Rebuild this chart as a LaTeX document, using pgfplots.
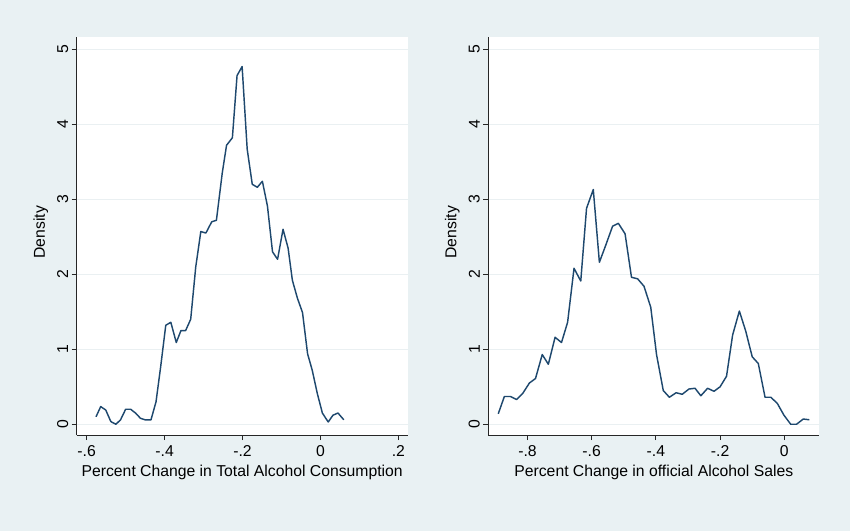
\documentclass[border=0pt]{standalone}
\usepackage{pgfplots}
\pgfplotsset{compat=1.18}
\usepackage{fontspec}
\setmainfont{Liberation Sans}
\definecolor{bgc}{RGB}{233,241,243}
\definecolor{gridc}{RGB}{234,240,242}
\definecolor{navy}{RGB}{30,72,110}
\begin{document}
\begin{tikzpicture}
\fill[bgc] (0,0) rectangle (850bp,531bp);
\pgfplotsset{
  every axis/.append style={
    scale only axis,
    anchor=south west,
    width=331bp, height=397.7bp,
    ymin=-0.143, ymax=5.16,
    axis x line=bottom, axis y line=left,
    axis line style={-, line width=0.9pt, black!85},
    axis background/.style={fill=white},
    tick align=outside,
    major tick length=5bp,
    tick style={line width=0.8pt, black!85},
    ymajorgrids,
    major grid style={gridc, line width=1.4pt},
    ytick={0,1,2,3,4,5},
    font=\fontsize{15.8}{18}\selectfont,
    /pgf/number format/assume math mode=true,
    yticklabel style={rotate=90, anchor=south, xshift=0bp, font=\fontsize{15.8}{18}\selectfont},
    xticklabel style={font=\fontsize{15.8}{18}\selectfont, yshift=-2bp},
    ylabel={Density},
    every axis y label/.style={at={(axis description cs:-0.1087,0.51)}, rotate=90, anchor=center},
    every axis x label/.style={at={(axis description cs:0.5,-0.1031)}, anchor=base},
    clip=false,
  }
}
\begin{axis}[
  at={(76.7bp,96bp)},
  xmin=-0.6256, xmax=0.224,
  xtick={-0.6,-0.4,-0.2,0,0.2},
  xticklabels={-.6,-.4,-.2,0,.2},
  xlabel={Percent Change in Total Alcohol Consumption},
]
\addplot[navy, line width=1.45pt, line join=round] coordinates {
(-0.576,0.10) (-0.564,0.236) (-0.551,0.19) (-0.538,0.036) (-0.525,0.0)
(-0.513,0.06) (-0.500,0.20) (-0.487,0.20) (-0.474,0.147) (-0.462,0.08)
(-0.449,0.058) (-0.435,0.058) (-0.422,0.30) (-0.410,0.77) (-0.397,1.32)
(-0.384,1.36) (-0.370,1.09) (-0.358,1.25) (-0.346,1.25) (-0.333,1.40)
(-0.320,2.10) (-0.307,2.57) (-0.294,2.55) (-0.279,2.70) (-0.267,2.72)
(-0.252,3.35) (-0.241,3.72) (-0.226,3.82) (-0.214,4.65) (-0.201,4.77)
(-0.188,3.67) (-0.175,3.20) (-0.162,3.16) (-0.149,3.24) (-0.136,2.91)
(-0.123,2.30) (-0.110,2.20) (-0.096,2.60) (-0.083,2.35) (-0.072,1.92)
(-0.059,1.68) (-0.046,1.49) (-0.033,0.94) (-0.021,0.72) (-0.008,0.41)
(0.005,0.15) (0.020,0.03) (0.032,0.12) (0.045,0.15) (0.060,0.06)
};
\end{axis}
\begin{axis}[
  at={(488.3bp,96bp)},
  xmin=-0.922, xmax=0.109,
  xtick={-0.8,-0.6,-0.4,-0.2,0},
  xticklabels={-.8,-.6,-.4,-.2,0},
  xlabel={Percent Change in official Alcohol Sales},
]
\addplot[navy, line width=1.45pt, line join=round] coordinates {
(-0.891,0.14) (-0.872,0.37) (-0.853,0.37) (-0.834,0.33) (-0.815,0.41)
(-0.794,0.55) (-0.775,0.61) (-0.754,0.93) (-0.735,0.80) (-0.714,1.16)
(-0.694,1.09) (-0.675,1.36) (-0.655,2.08) (-0.634,1.91) (-0.616,2.88)
(-0.595,3.13) (-0.576,2.16) (-0.556,2.39) (-0.535,2.64) (-0.517,2.68)
(-0.496,2.54) (-0.476,1.96) (-0.457,1.94) (-0.437,1.84) (-0.416,1.56)
(-0.398,0.93) (-0.377,0.45) (-0.358,0.36) (-0.337,0.42) (-0.318,0.40)
(-0.297,0.47) (-0.278,0.48) (-0.260,0.38) (-0.239,0.48) (-0.219,0.44)
(-0.200,0.50) (-0.180,0.64) (-0.161,1.19) (-0.140,1.51) (-0.120,1.24)
(-0.100,0.90) (-0.081,0.81) (-0.060,0.36) (-0.042,0.36) (-0.022,0.28)
(-0.001,0.12) (0.020,0.0) (0.038,0.0) (0.059,0.07) (0.078,0.06)
};
\end{axis}
\end{tikzpicture}
\end{document}
